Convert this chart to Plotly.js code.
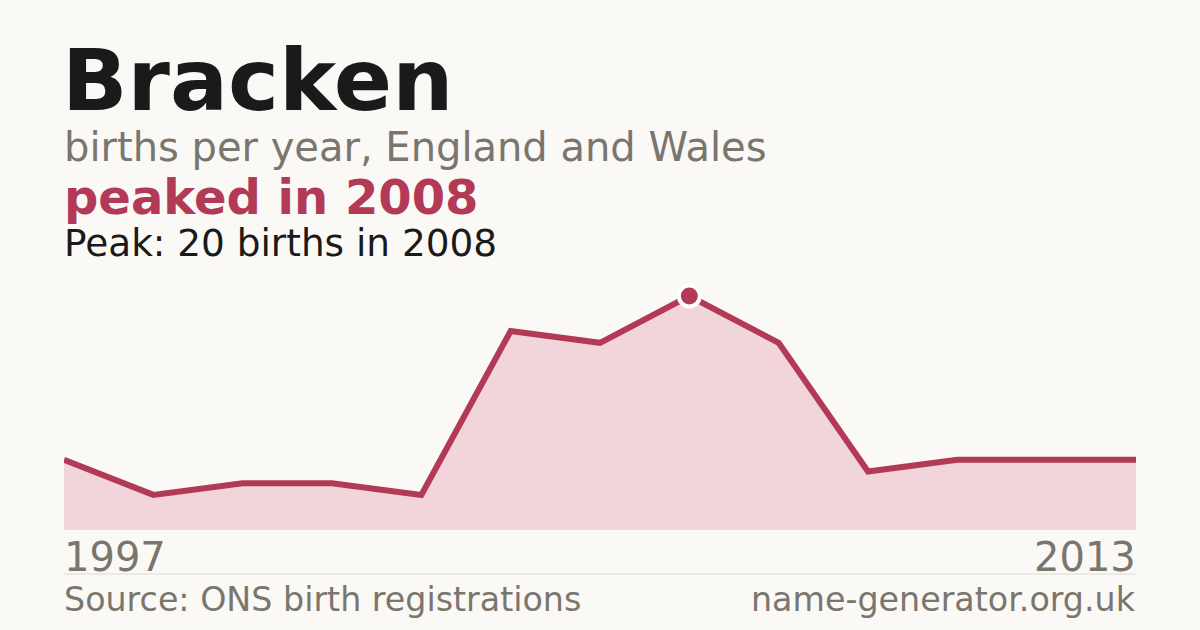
<!DOCTYPE html>
<html>
<head>
<meta charset="utf-8">
<script src="https://cdn.plot.ly/plotly-3.0.1.min.js"></script>
<style>
  html, body { margin: 0; padding: 0; background: #faf9f5; }
  #chart { width: 1200px; height: 630px; }
</style>
</head>
<body>
<div id="chart"></div>
<script>
// births per year (only registered years shown)
var years = ["1997", "1998", "2000", "2001", "2003", "2005", "2006", "2008", "2009", "2010", "2011", "2012", "2013"];
var births = [6, 3, 4, 4, 3, 17, 16, 20, 16, 5, 6, 6, 6];
var peakYear = "2008";
var peakValue = 20;

var red = "#b33a57";
var grey = "#7a766e";
var font = "DejaVu Sans, sans-serif";

// pixel helpers for the plot area (64..1136 x 296..530)
var W = 1200, H = 630, L = 64, R = 64, T = 296, B = 100;
function px(p) { return (p - L) / (W - L - R); }
function py(p) { return (H - B - p) / (H - T - B); }

var area = {
    type: "scatter",
    mode: "lines",
    x: years,
    y: births,
    fill: "tozeroy",
    fillcolor: "#f1d5da",
    line: { color: red, width: 6 },
    hoverinfo: "skip"
};

var peak = {
    type: "scatter",
    mode: "markers",
    x: [peakYear],
    y: [peakValue],
    cliponaxis: false,
    marker: { size: 21, color: red, line: { color: "#ffffff", width: 4 } },
    hoverinfo: "skip"
};

function note(text, x, top, size, color, bold, anchor) {
    return {
        xref: "paper", yref: "paper",
        x: px(x), y: py(top),
        xanchor: anchor || "left", yanchor: "top",
        showarrow: false,
        text: bold ? "<b>" + text + "</b>" : text,
        font: { family: font, size: size, color: color }
    };
}

var layout = {
    width: W,
    height: H,
    paper_bgcolor: "#faf9f5",
    plot_bgcolor: "#faf9f5",
    margin: { l: L, r: R, t: T, b: B, pad: 0 },
    showlegend: false,
    xaxis: {
        type: "category",
        range: [0, years.length - 1],
        showgrid: false, zeroline: false, showticklabels: false, ticks: "",
        fixedrange: true
    },
    yaxis: {
        range: [0, peakValue],
        showgrid: false, zeroline: false, showticklabels: false, ticks: "",
        fixedrange: true
    },
    annotations: [
        note("Bracken", 60, 28, 86, "#1a1a1a", true),
        note("births per year, England and Wales", 62, 122, 40, grey, false),
        note("peaked in " + peakYear, 62, 167, 48, red, true),
        note("Peak: " + peakValue + " births in " + peakYear, 62, 219, 37.4, "#1a1a1a", false),
        note(years[0], 62, 532, 40, grey, false),
        note(years[years.length - 1], 1138, 532, 40, grey, false, "right"),
        note("Source: ONS birth registrations", 62, 578, 33.3, grey, false),
        note("name-generator.org.uk", 1138, 578, 33.3, grey, false, "right")
    ],
    shapes: [{
        type: "line", xref: "paper", yref: "paper",
        x0: 0, x1: 1, y0: py(574), y1: py(574),
        line: { color: "#dcdad3", width: 1 }
    }]
};

Plotly.newPlot("chart", [area, peak], layout, { displayModeBar: false, staticPlot: true });
</script>
</body>
</html>
